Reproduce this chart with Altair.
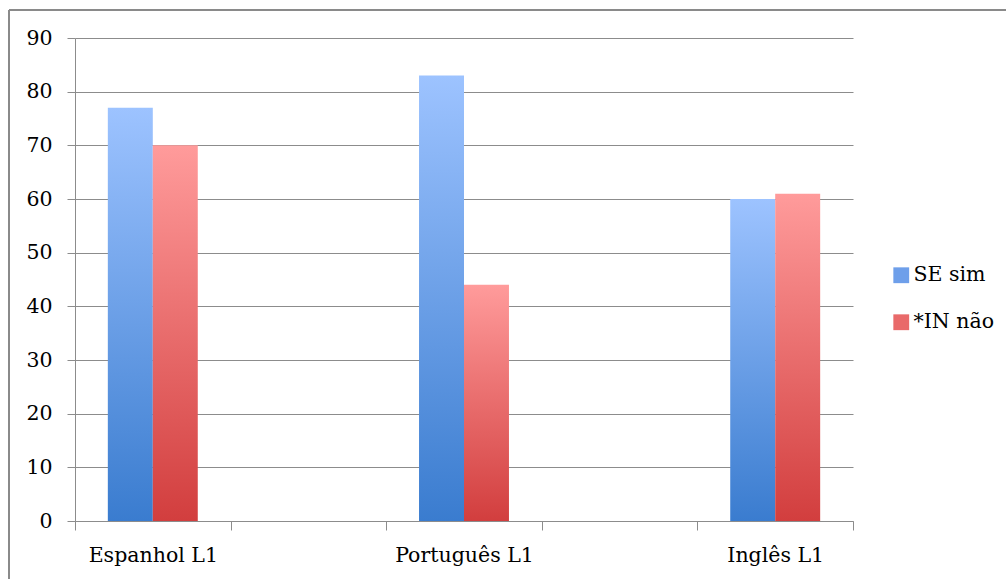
import altair as alt
import pandas as pd

# ---- data ----
categories = ["Espanhol L1", "Português L1", "Inglês L1"]
slots = ["Espanhol L1", " ", "Português L1", "  ", "Inglês L1"]  # empty slots between groups
series = ["SE sim", "*IN não"]
se_sim = [77, 83, 60]
in_nao = [70, 44, 61]
y_ticks = [0, 10, 20, 30, 40, 50, 60, 70, 80, 90]

rows = []
for i, c in enumerate(categories):
    rows.append({"cat": c, "series": series[0], "value": se_sim[i]})
    rows.append({"cat": c, "series": series[1], "value": in_nao[i]})
df = pd.DataFrame(rows)

FONT = "DejaVu Serif"
FS = 20.5
GRID = "#8c8c8c"

x_enc = alt.X(
    "cat:N",
    sort=slots,
    scale=alt.Scale(domain=slots, paddingInner=0, paddingOuter=0),
    axis=alt.Axis(
        title=None, labelAngle=0, tickBand="extent", tickSize=9,
        labelPadding=15, grid=False, domainColor=GRID, tickColor=GRID,
        labelFont=FONT, labelFontSize=FS, labelColor="black",
    ),
)
xoff_enc = alt.XOffset(
    "series:N", scale=alt.Scale(domain=series, paddingInner=0, paddingOuter=0.73)
)
y_enc = alt.Y(
    "value:Q",
    scale=alt.Scale(domain=[0, 90], nice=False),
    axis=alt.Axis(
        title=None, values=y_ticks, tickSize=8, labelPadding=15,
        grid=True, gridColor=GRID, domainColor=GRID, tickColor=GRID,
        labelFont=FONT, labelFontSize=FS, labelColor="black",
    ),
)

base = alt.Chart(df).encode(x=x_enc, xOffset=xoff_enc, y=y_enc)

blue_grad = alt.Gradient(
    gradient="linear",
    stops=[alt.GradientStop(color="#9DC3FF", offset=0),
           alt.GradientStop(color="#3A7CCF", offset=1)],
    x1=0, x2=0, y1=0, y2=1,
)
red_grad = alt.Gradient(
    gradient="linear",
    stops=[alt.GradientStop(color="#FF9B9B", offset=0),
           alt.GradientStop(color="#D23E3E", offset=1)],
    x1=0, x2=0, y1=0, y2=1,
)

blue = base.transform_filter(alt.datum.series == series[0]).mark_bar(color=blue_grad)
red = base.transform_filter(alt.datum.series == series[1]).mark_bar(color=red_grad)

legend_layer = base.mark_square(opacity=0).encode(
    color=alt.Color(
        "series:N",
        scale=alt.Scale(domain=series, range=["#6E9FEA", "#E96A6A"]),
        legend=alt.Legend(
            title=None, orient="none", legendX=816, legendY=227,
            symbolType="square", symbolSize=250, symbolOpacity=1,
            symbolStrokeWidth=0, labelFont=FONT, labelFontSize=FS,
            labelColor="black", rowPadding=26, labelOffset=2,
        ),
    )
)

frame = pd.DataFrame({"k": [0]})
border_left = alt.Chart(frame).mark_rule(color="#8a8a8a", strokeWidth=2).encode(
    x=alt.value(-66), y=alt.value(-28), y2=alt.value(600)
)
border_top = alt.Chart(frame).mark_rule(color="#8a8a8a", strokeWidth=2).encode(
    x=alt.value(-66), x2=alt.value(1000), y=alt.value(-28)
)

chart = (
    alt.layer(blue, red, legend_layer, border_left, border_top)
    .properties(
        width=778, height=483,
        autosize=alt.AutoSizeParams(type="none"),
        padding={"left": 75, "top": 38, "right": 153, "bottom": 58},
        background="white",
    )
    .configure_view(stroke=None)
)

chart.save("out.html", embed_options={"renderer": "svg", "actions": False})
